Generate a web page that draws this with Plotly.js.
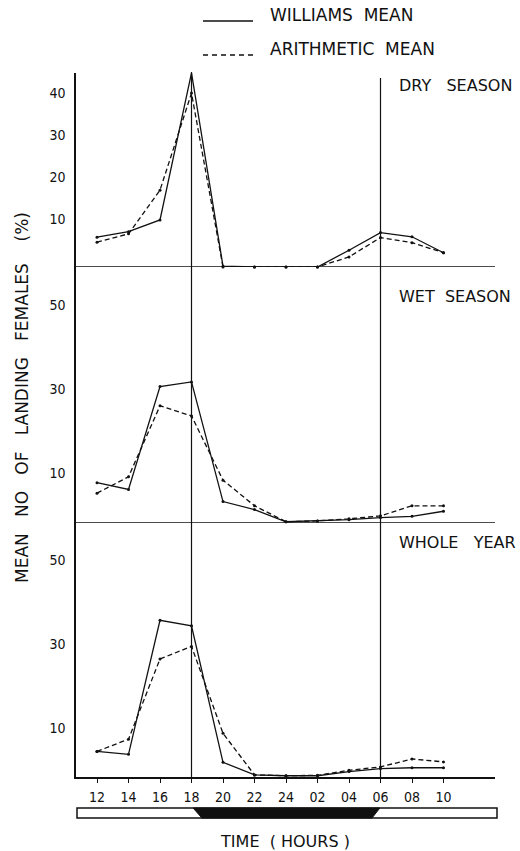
<!DOCTYPE html>
<html>
<head>
<meta charset="utf-8">
<script src="https://cdn.plot.ly/plotly-3.0.1.min.js"></script>
<style>
  html, body { margin: 0; padding: 0; background: #fff; }
  #chart { width: 520px; height: 851px; }
</style>
</head>
<body>
<div id="chart"></div>
<script>
// ---- data ----
const hours = ['12','14','16','18','20','22','24','02','04','06','08','10'];
const dryWilliams   = [7.1, 8.4, 11.2, 46.2, 0.2, 0, 0, 0, 4.0, 8.2, 7.2, 3.4];
const dryArithmetic = [5.9, 7.9, 18.3, 41.4, 0, 0, 0, 0, 2.4, 7.0, 5.8, 3.4];
const wetWilliams   = [9.6, 8.0, 32.5, 33.6, 5.1, 3.2, 0.3, 0.5, 0.8, 1.3, 1.6, 2.8];
const wetArithmetic = [7.1, 11.0, 27.9, 25.5, 10.2, 4.1, 0.3, 0.5, 1.0, 1.7, 4.1, 4.1];
const yearWilliams   = [6.1, 5.4, 37.3, 36.0, 3.5, 0.5, 0.3, 0.3, 1.3, 2.0, 2.2, 2.2];
const yearArithmetic = [6.1, 9.0, 28.1, 31.1, 10.4, 0.5, 0.3, 0.4, 1.6, 2.4, 4.3, 3.6];
const dryTicks  = [10, 20, 30, 40];
const wetTicks  = [10, 30, 50];
const yearTicks = [10, 30, 50];
const panelNames = ['DRY\u00a0\u00a0\u00a0SEASON', 'WET\u00a0\u00a0SEASON', 'WHOLE\u00a0\u00a0\u00a0YEAR'];
const seriesNames = ['WILLIAMS\u00a0\u00a0MEAN', 'ARITHMETIC\u00a0\u00a0MEAN'];
const sunsetHour = '18', sunriseHour = '06';

// ---- layout geometry ----
const W = 520, H = 851;
const M = {l: 76, r: 25, t: 73, b: 74};
const PW = W - M.l - M.r, PH = H - M.t - M.b;
const px = v => (v - M.l) / PW;          // pixel x -> paper
const py = v => (H - M.b - v) / PH;      // pixel y -> paper
const xIdx = hours.map((h, i) => i);
const sunset = hours.indexOf(sunsetHour), sunrise = hours.indexOf(sunriseHour);

const ink = '#111';
const tickFont = {family: 'Liberation Sans Narrow, DejaVu Sans Condensed, Liberation Sans, sans-serif', size: 14, color: ink};
const textFont = {family: 'DejaVu Sans, sans-serif', size: 17, color: ink};

function pair(yw, ya, axis) {
  return [
    {x: xIdx, y: yw, yaxis: axis, name: seriesNames[0], mode: 'lines+markers', cliponaxis: false,
     line: {color: ink, width: 1.3}, marker: {color: ink, size: 3}, showlegend: false},
    {x: xIdx, y: ya, yaxis: axis, name: seriesNames[1], mode: 'lines+markers', cliponaxis: false,
     line: {color: ink, width: 1.3, dash: '5px,3px'}, marker: {color: ink, size: 3}, showlegend: false}
  ];
}
const data = [].concat(
  pair(dryWilliams, dryArithmetic, 'y'),
  pair(wetWilliams, wetArithmetic, 'y2'),
  pair(yearWilliams, yearArithmetic, 'y3')
);

const scale = 4.2; // px per unit
const dTop = py(267), dMid = py(523);
function yax(domain, ticks, pxHeight, shift) {
  return {domain: domain, range: [0, pxHeight / scale], anchor: 'x', tickvals: ticks,
    showgrid: false, zeroline: false, showline: true, linecolor: ink, linewidth: 1.6,
    ticks: '', tickfont: tickFont, ticklabelstandoff: 6, ticklabelshift: shift, fixedrange: true};
}

const shapes = [
  // vertical reference lines at 18h and 06h
  {type: 'line', xref: 'x', yref: 'paper', x0: sunset, x1: sunset, y0: 0, y1: py(72), line: {color: ink, width: 1.2}},
  {type: 'line', xref: 'x', yref: 'paper', x0: sunrise, x1: sunrise, y0: 0, y1: py(78), line: {color: ink, width: 1.2}},
  // panel baselines
  {type: 'line', xref: 'paper', yref: 'y', x0: 0, x1: 1, y0: 0, y1: 0, line: {color: ink, width: 1.6}},
  {type: 'line', xref: 'paper', yref: 'y2', x0: 0, x1: 1, y0: 0, y1: 0, line: {color: ink, width: 1.6}},
  // day/night bar
  {type: 'rect', xref: 'paper', yref: 'paper', x0: px(77), x1: px(497), y0: py(818), y1: py(808),
   line: {color: ink, width: 1.5}, fillcolor: '#fff'},
  {type: 'path', xref: 'x', yref: 'paper',
   path: 'M ' + (sunset + 0.05) + ',' + py(808) + ' L ' + (sunrise - 0.02) + ',' + py(808) +
         ' L ' + (sunrise - 0.27) + ',' + py(818) + ' L ' + (sunset + 0.33) + ',' + py(818) + ' Z',
   line: {color: ink, width: 1}, fillcolor: ink},
  // legend samples
  {type: 'line', xref: 'paper', yref: 'paper', x0: px(203), x1: px(253), y0: py(21), y1: py(21), line: {color: ink, width: 1.3}},
  {type: 'line', xref: 'paper', yref: 'paper', x0: px(203), x1: px(253), y0: py(55), y1: py(55), line: {color: ink, width: 1.5, dash: '5px,4px'}}
];

const annotations = [
  {text: seriesNames[0], xref: 'paper', yref: 'paper', x: px(268), y: py(15), xanchor: 'left', yanchor: 'middle', showarrow: false, font: textFont},
  {text: seriesNames[1], xref: 'paper', yref: 'paper', x: px(268), y: py(49), xanchor: 'left', yanchor: 'middle', showarrow: false, font: textFont},
  {text: panelNames[0], xref: 'paper', yref: 'paper', x: px(397), y: py(85), xanchor: 'left', yanchor: 'middle', showarrow: false, font: {family: textFont.family, size: 16, color: ink}},
  {text: panelNames[1], xref: 'paper', yref: 'paper', x: px(397), y: py(296), xanchor: 'left', yanchor: 'middle', showarrow: false, font: {family: textFont.family, size: 16, color: ink}},
  {text: panelNames[2], xref: 'paper', yref: 'paper', x: px(397), y: py(542), xanchor: 'left', yanchor: 'middle', showarrow: false, font: {family: textFont.family, size: 16, color: ink}},
  {text: 'MEAN\u00a0\u00a0\u00a0NO\u00a0\u00a0\u00a0OF\u00a0\u00a0\u00a0LANDING\u00a0\u00a0\u00a0FEMALES\u00a0\u00a0\u00a0\u00a0(%)',
   xref: 'paper', yref: 'paper', x: px(22), y: py(398), textangle: -90, xanchor: 'center', yanchor: 'middle', showarrow: false, font: textFont}
];

const layout = {
  width: W, height: H,
  margin: M,
  paper_bgcolor: '#fff', plot_bgcolor: '#fff',
  showlegend: false,
  font: textFont,
  xaxis: {anchor: 'y3', range: [-21 / 31.5, (PW - 21) / 31.5], tickvals: xIdx, ticktext: hours,
    showgrid: false, zeroline: false, showline: true, linecolor: ink, linewidth: 1.6,
    ticks: 'outside', ticklen: 4, tickcolor: ink, tickwidth: 1, tickfont: tickFont, ticklabelstandoff: 3,
    title: {text: 'TIME\u00a0\u00a0(\u00a0HOURS\u00a0)', font: {family: textFont.family, size: 16, color: ink}, standoff: 40},
    fixedrange: true},
  yaxis:  yax([dTop, 1], dryTicks, 267 - M.t, -6),
  yaxis2: yax([dMid, dTop], wetTicks, 523 - 267, -8),
  yaxis3: yax([0, dMid], yearTicks, H - M.b - 523, -7),
  shapes: shapes,
  annotations: annotations
};

Plotly.newPlot('chart', data, layout, {staticPlot: true, displayModeBar: false});
</script>
</body>
</html>
